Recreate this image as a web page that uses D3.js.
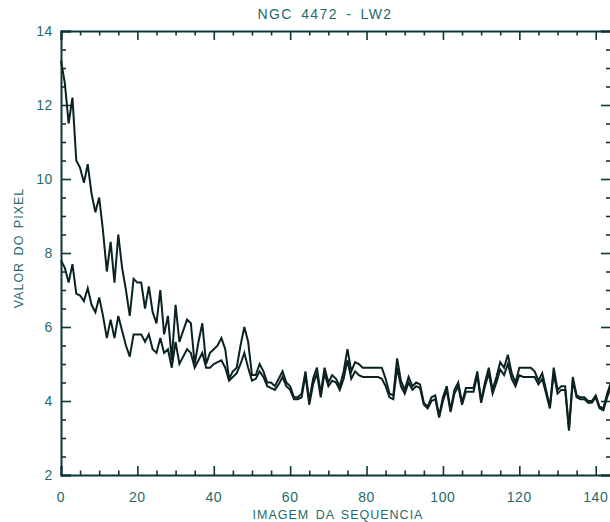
<!DOCTYPE html>
<html>
<head>
<meta charset="utf-8">
<script src="https://cdn.jsdelivr.net/npm/d3@7"></script>
<style>
  body { margin: 0; background: #fff; }
  svg { display: block; font-family: "Liberation Sans", Arial, sans-serif; }
</style>
</head>
<body>
<div id="chart"></div>
<script>
const title = "NGC 4472 - LW2";
const xLabel = "IMAGEM DA SEQUENCIA";
const yLabel = "VALOR DO PIXEL";

const xTicks = [0, 20, 40, 60, 80, 100, 120, 140];
const yTicks = [2, 4, 6, 8, 10, 12, 14];

// upper curve, one value per image of the sequence (0..144)
const upper = [
  13.2, 12.6, 11.5, 12.2, 10.5, 10.3, 9.9, 10.4, 9.6, 9.1,
  9.5, 8.6, 7.5, 8.3, 7.2, 8.5, 7.6, 7.0, 6.3, 7.3,
  7.2, 7.2, 6.5, 7.1, 6.4, 6.1, 7.0, 5.8, 6.3, 5.1,
  6.6, 5.6, 5.9, 6.2, 6.1, 5.0, 5.6, 6.1, 5.0, 5.3,
  5.4, 5.5, 5.7, 5.4, 4.6, 4.8, 4.9, 5.5, 6.0, 5.6,
  4.7, 4.7, 5.0, 4.8, 4.5, 4.5, 4.4, 4.6, 4.8, 4.5,
  4.4, 4.1, 4.1, 4.2, 4.8, 4.0, 4.6, 4.9, 4.2, 4.9,
  4.5, 4.7, 4.6, 4.4, 4.8, 5.4, 4.8, 5.05, 5.0, 4.9,
  4.9, 4.9, 4.9, 4.9, 4.9, 4.6, 4.2, 4.15, 5.15, 4.55,
  4.3, 4.65, 4.4, 4.5, 4.45, 3.95, 3.85, 4.1, 4.15, 3.6,
  4.1, 4.4, 3.75, 4.3, 4.5, 3.95, 4.35, 4.35, 4.35, 4.8,
  4.0, 4.5, 4.9, 4.3, 4.65, 5.05, 4.9, 5.25, 4.75, 4.5,
  4.9, 4.9, 4.9, 4.9, 4.8, 4.55, 4.75, 4.3, 3.85, 4.9,
  4.3, 4.4, 4.4, 3.25, 4.65, 4.15, 4.1, 4.1, 4.0, 4.0,
  4.15, 3.85, 3.8, 4.2, 4.5
];

// lower curve
const lower = [
  7.8, 7.6, 7.2, 7.7, 6.9, 6.85, 6.7, 7.05, 6.6, 6.4,
  6.8, 6.3, 5.7, 6.2, 5.7, 6.3, 5.9, 5.5, 5.2, 5.8,
  5.8, 5.8, 5.6, 5.8, 5.4, 5.3, 5.7, 5.3, 5.4, 4.9,
  5.6, 5.0, 5.2, 5.4, 5.3, 4.9, 5.1, 5.3, 4.9, 4.9,
  5.0, 5.05, 5.1, 4.9, 4.55, 4.65, 4.75, 5.0, 5.3, 4.9,
  4.55, 4.6, 4.8, 4.65, 4.4, 4.35, 4.3, 4.45, 4.65, 4.4,
  4.3, 4.05, 4.05, 4.1, 4.7, 3.9, 4.45, 4.75, 4.1, 4.75,
  4.4, 4.55, 4.5, 4.3, 4.6, 5.1, 4.6, 4.8, 4.7, 4.65,
  4.65, 4.65, 4.65, 4.65, 4.6, 4.4, 4.1, 4.05, 4.9, 4.4,
  4.2, 4.5, 4.3, 4.4, 4.35, 3.9, 3.8, 4.0, 4.05, 3.55,
  4.0, 4.3, 3.7, 4.2, 4.4, 3.9, 4.25, 4.25, 4.25, 4.7,
  3.95, 4.4, 4.75, 4.2, 4.5, 4.85, 4.7, 5.0, 4.6, 4.4,
  4.7, 4.65, 4.65, 4.65, 4.65, 4.45, 4.6, 4.2, 3.8, 4.75,
  4.2, 4.3, 4.3, 3.2, 4.55, 4.1, 4.05, 4.05, 3.95, 3.95,
  4.1, 3.8, 3.75, 4.1, 4.4
];

const width = 610;
const height = 522;
const margin = { top: 31, right: -1, bottom: 47, left: 61 };

const ink = "#0d3636";
const textColor = "#1f6a6a";

const x = d3.scaleLinear()
  .domain([0, 144])
  .range([margin.left, width - margin.right]);

const y = d3.scaleLinear()
  .domain([2, 14])
  .range([height - margin.bottom, margin.top]);

const svg = d3.select("#chart")
  .append("svg")
  .attr("width", width)
  .attr("height", height);

const xMinor = d3.range(0, 145, 5).filter((v) => v % 20 !== 0);
const yMinor = d3.range(2, 14.01, 0.5).filter((v) => v % 2 !== 0);

const styleAxis = (g) => {
  g.select(".domain").attr("stroke", ink).attr("stroke-width", 2);
  g.selectAll(".tick line").attr("stroke", ink).attr("stroke-width", 1.6);
};

// bottom axis
svg.append("g")
  .attr("transform", `translate(0,${y(2)})`)
  .call(d3.axisTop(x).tickValues(xTicks).tickSize(9).tickFormat(""))
  .call(styleAxis);
svg.append("g")
  .attr("transform", `translate(0,${y(2)})`)
  .call(d3.axisTop(x).tickValues(xMinor).tickSize(4.5).tickFormat("").tickSizeOuter(0))
  .call((g) => g.select(".domain").remove())
  .call(styleAxis);
svg.append("g")
  .selectAll("text")
  .data(xTicks)
  .join("text")
  .attr("x", (d) => x(d))
  .attr("y", y(2) + 27)
  .attr("text-anchor", "middle")
  .attr("fill", textColor)
  .attr("font-size", 14)
  .attr("letter-spacing", 0.6)
  .text((d) => d);

// top axis
svg.append("g")
  .attr("transform", `translate(0,${y(14)})`)
  .call(d3.axisBottom(x).tickValues(xTicks).tickSize(9).tickFormat(""))
  .call(styleAxis);
svg.append("g")
  .attr("transform", `translate(0,${y(14)})`)
  .call(d3.axisBottom(x).tickValues(xMinor).tickSize(4.5).tickFormat("").tickSizeOuter(0))
  .call((g) => g.select(".domain").remove())
  .call(styleAxis);

// left axis
svg.append("g")
  .attr("transform", `translate(${x(0)},0)`)
  .call(d3.axisRight(y).tickValues(yTicks).tickSize(10).tickFormat(""))
  .call(styleAxis);
svg.append("g")
  .attr("transform", `translate(${x(0)},0)`)
  .call(d3.axisRight(y).tickValues(yMinor).tickSize(5).tickFormat("").tickSizeOuter(0))
  .call((g) => g.select(".domain").remove())
  .call(styleAxis);
svg.append("g")
  .selectAll("text")
  .data(yTicks)
  .join("text")
  .attr("x", x(0) - 8)
  .attr("y", (d) => y(d) + 5)
  .attr("text-anchor", "end")
  .attr("fill", textColor)
  .attr("font-size", 14)
  .attr("letter-spacing", 0.6)
  .text((d) => d);

// right axis (sits on the picture's edge)
svg.append("g")
  .attr("transform", `translate(${x(144)},0)`)
  .call(d3.axisLeft(y).tickValues(yTicks).tickSize(10).tickFormat(""))
  .call(styleAxis);
svg.append("g")
  .attr("transform", `translate(${x(144)},0)`)
  .call(d3.axisLeft(y).tickValues(yMinor).tickSize(5).tickFormat("").tickSizeOuter(0))
  .call((g) => g.select(".domain").remove())
  .call(styleAxis);

// curves
const line = d3.line()
  .x((d, i) => x(i))
  .y((d) => y(d));

svg.append("g")
  .selectAll("path")
  .data([upper, lower])
  .join("path")
  .attr("fill", "none")
  .attr("stroke", "#0a2222")
  .attr("stroke-width", 2)
  .attr("stroke-linejoin", "miter")
  .attr("d", line);

// titles
svg.append("text")
  .attr("x", 325)
  .attr("y", 19)
  .attr("text-anchor", "middle")
  .attr("fill", textColor)
  .attr("font-size", 14)
  .attr("letter-spacing", 1.4)
  .attr("word-spacing", 3)
  .text(title);

svg.append("text")
  .attr("x", 338)
  .attr("y", 519)
  .attr("text-anchor", "middle")
  .attr("fill", textColor)
  .attr("font-size", 12.5)
  .attr("letter-spacing", 1)
  .attr("word-spacing", 2)
  .text(xLabel);

svg.append("text")
  .attr("transform", `translate(23,248) rotate(-90)`)
  .attr("text-anchor", "middle")
  .attr("fill", textColor)
  .attr("font-size", 12.5)
  .attr("letter-spacing", 1)
  .attr("word-spacing", 2)
  .text(yLabel);
</script>
</body>
</html>
